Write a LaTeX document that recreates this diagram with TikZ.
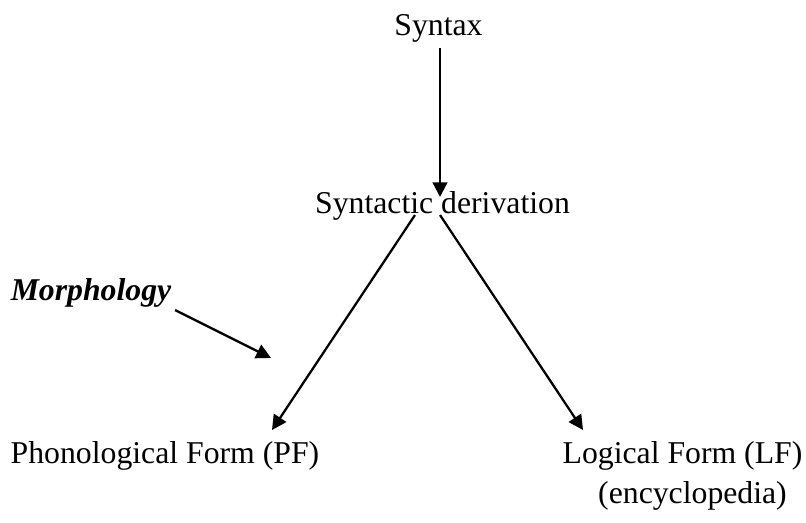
\documentclass[tikz,border=0pt]{standalone}
\usepackage{fontspec}
\setmainfont{Liberation Serif}
\usetikzlibrary{arrows.meta}

\tikzset{
  lbl/.style={anchor=base, inner sep=0pt, font=\fontsize{23.8}{28}\selectfont},
  arr/.style={line width=1.7pt, -{Triangle[length=11pt, width=11pt]}}
}

\begin{document}
\begin{tikzpicture}[x=0.75pt, y=-0.75pt]
        % Fix the frame to the size of the original
        \useasboundingbox (0,0) rectangle (806,522);

        % Labels
        \node[lbl] (syn) at (438.5,35) {Syntax};
        \node[lbl] (der) at (442.5,213) {Syntactic derivation};
        \node[lbl, font=\fontsize{23.8}{28}\selectfont\bfseries\itshape] (morph) at (91,300) {Morphology};
        \node[lbl] (pf) at (165,463) {Phonological Form (PF)};
        \node[lbl] (lf) at (682.5,463) {Logical Form (LF)};
        \node[lbl] (enc) at (692.5,503) {(encyclopedia)};

        % Free ends of the arrows
        \coordinate (synend) at (440,197);
        \coordinate (lstart) at (415,215);
        \coordinate (rstart) at (440,215);
        \coordinate (pfend) at (272,430);
        \coordinate (lfend) at (583,430);
        \coordinate (morphstart) at (175,310);
        \coordinate (morphend) at (271,358);

        % Arrows
        \draw[arr] (syn.south -| synend) ++(0,6) -- (synend);
        \draw[arr] (lstart) -- (pfend);
        \draw[arr] (rstart) -- (lfend);
        \draw[arr] (morphstart) -- (morphend);
\end{tikzpicture}
\end{document}
